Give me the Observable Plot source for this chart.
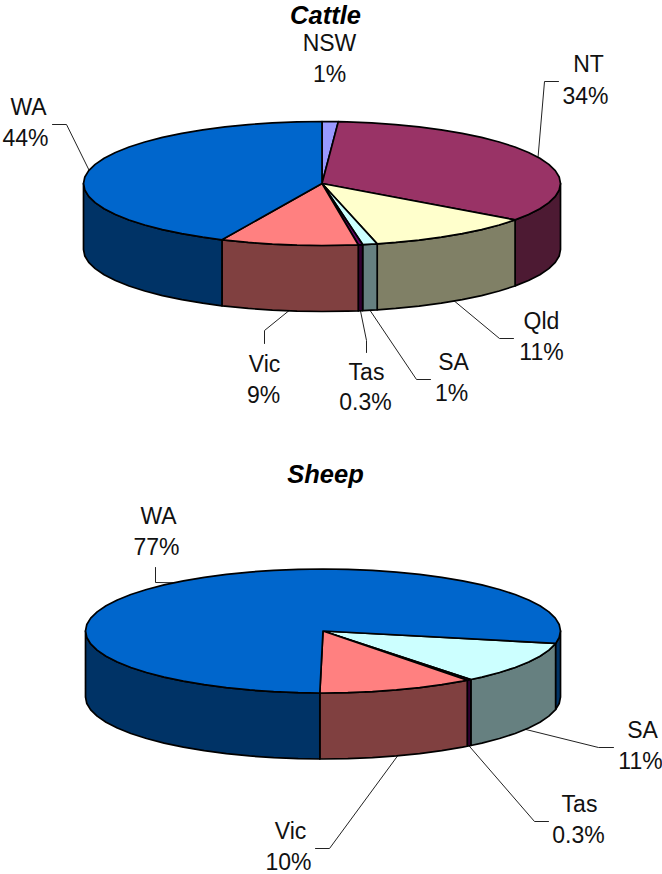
<!DOCTYPE html>
<html>
<head>
<meta charset="utf-8">
<style>
  html, body { margin: 0; padding: 0; background: #fff; }
  svg { display: block; }
</style>
<script src="https://cdn.jsdelivr.net/npm/d3@7"></script>
<script src="https://cdn.jsdelivr.net/npm/@observablehq/plot@0.6"></script>
</head>
<body>
<script>
// Share of each state, per cent, clockwise from each pie's starting angle.
const cattleRegions = ["NSW", "NT", "Qld", "SA", "Tas", "Vic", "WA"];
const cattleShares = [1.1, 34.2, 11.4, 1, 0.3, 9.4, 43.5];
const cattleLabels = ["1%", "34%", "11%", "1%", "0.3%", "9%", "44%"];

const sheepRegions = ["SA", "Tas", "Vic", "WA"];
const sheepShares = [10.9, 0.3, 10.4, 76.5];
const sheepLabels = ["11%", "0.3%", "10%", "77%"];

const topColors = {
  NSW: "#9999ff", NT: "#993366", Qld: "#ffffcc", SA: "#ccffff",
  Tas: "#660066", Vic: "#ff8080", WA: "#0066cc"
};
const sideColors = {
  NSW: "#4d4d80", NT: "#4d1a33", Qld: "#808066", SA: "#668080",
  Tas: "#330033", Vic: "#804040", WA: "#003366"
};

// Disc geometry and text placement for the two pies.
const cattleDisc = { cx: 321.5, cy: 183, rx: 238.5, ry: 62, depth: 66, start: 0 };
const sheepDisc = { cx: 322.5, cy: 630.5, rx: 237.5, ry: 62, depth: 66, start: 101.5 };

// name: [x, baseline], value: [x, baseline], elbow: the leader's fixed points from the text inward.
const cattleCallouts = {
  NSW: { name: [329, 50], value: [329, 81], elbow: [] },
  NT: { name: [588, 71], value: [585, 103], elbow: [[558, 81], [544, 81]] },
  Qld: { name: [541, 328], value: [541, 359], elbow: [[513, 338], [499, 338]] },
  SA: { name: [453, 369], value: [451, 400], elbow: [[430, 379], [416, 379]] },
  Tas: { name: [366, 379], value: [365, 409], elbow: [[366, 352], [366, 340]] },
  Vic: { name: [264, 371], value: [263, 402], elbow: [[264, 343], [264, 330]] },
  WA: { name: [28, 114], value: [25, 145], elbow: [[52, 124], [66, 124]] }
};
const sheepCallouts = {
  SA: { name: [642, 737], value: [640, 768], elbow: [[613, 747], [598, 747]] },
  Tas: { name: [579, 811], value: [578, 842], elbow: [[548, 821], [534, 821]] },
  Vic: { name: [290, 838], value: [288, 869], elbow: [[315, 848], [329, 848]] },
  WA: { name: [158, 523], value: [156, 554], elbow: [[155, 567], [155, 582]] }
};

const headings = [
  { text: "Cattle", x: 325, y: 23 },
  { text: "Sheep", x: 325, y: 482 }
];

// The rim is a coarse polygon, so it keeps a slightly faceted outline.
const FACET = 6;
const rad = Math.PI / 180;

function rimPoint(disc, deg, drop = 0) {
  return {
    x: disc.cx + disc.rx * Math.sin(deg * rad),
    y: disc.cy - disc.ry * Math.cos(deg * rad) + drop
  };
}

function arcDegrees(a, b) {
  const out = [a];
  for (let d = Math.ceil(a / FACET + 1e-6) * FACET; d < b - 1e-6; d += FACET) out.push(d);
  out.push(b);
  return out;
}

function buildPie(key, regions, shares, labels, disc, callouts) {
  const arcs = d3.pie().sort(null)
    .startAngle(disc.start * rad)
    .endAngle((disc.start + 360) * rad)(shares);
  const tops = [], sides = [], leaders = [], texts = [];

  arcs.forEach((arc, i) => {
    const region = regions[i];
    const a = arc.startAngle / rad, b = arc.endAngle / rad;

    // Top face: wedge from the centre out to the rim.
    const id = `${key}-${region}`;
    tops.push({ id, tone: topColors[region], x: disc.cx, y: disc.cy });
    for (const d of arcDegrees(a, b)) {
      tops.push({ id, tone: topColors[region], ...rimPoint(disc, d) });
    }

    // Outer wall: only the front half of the disc, 90 to 270 degrees and its next turn.
    [[90, 270], [450, 630]].forEach(([lo, hi], k) => {
      const s = Math.max(a, lo), e = Math.min(b, hi);
      if (e <= s) return;
      const wall = `${id}-wall${k}`;
      const degs = arcDegrees(s, e);
      for (const d of degs) sides.push({ id: wall, tone: sideColors[region], ...rimPoint(disc, d) });
      for (const d of degs.slice().reverse()) {
        sides.push({ id: wall, tone: sideColors[region], ...rimPoint(disc, d, disc.depth) });
      }
    });

    const c = callouts[region];
    texts.push({ text: region, x: c.name[0], y: c.name[1] });
    texts.push({ text: labels[i], x: c.value[0], y: c.value[1] });

    // Leaders end on the slice's mid angle: the rim itself at the back, the wall's base in front.
    if (c.elbow.length) {
      const mid = (a + b) / 2;
      const front = Math.cos(mid * rad) < 0;
      const tip = rimPoint(disc, mid, front ? disc.depth : 0);
      c.elbow.forEach(([x, y]) => leaders.push({ id, x, y }));
      leaders.push({ id, ...tip });
    }
  });
  return { tops, sides, leaders, texts };
}

const cattle = buildPie("cattle", cattleRegions, cattleShares, cattleLabels, cattleDisc, cattleCallouts);
const sheep = buildPie("sheep", sheepRegions, sheepShares, sheepLabels, sheepDisc, sheepCallouts);

const fontFamily = "'Liberation Sans', Arial, sans-serif";
const faceOptions = {
  x: "x", y: "y", z: "id", fill: "tone", stroke: "#000",
  strokeWidth: 1.7, strokeLinejoin: "round", curve: "linear-closed"
};

const chart = Plot.plot({
  width: 662,
  height: 874,
  margin: 0,
  x: { domain: [0, 662], range: [0, 662], axis: null },
  y: { domain: [0, 874], range: [0, 874], axis: null },
  color: { type: "identity" },
  style: { background: "#fff", fontFamily },
  marks: [
    Plot.line([...cattle.leaders, ...sheep.leaders], {
      x: "x", y: "y", z: "id", stroke: "#222", strokeWidth: 1
    }),
    Plot.line([...cattle.sides, ...sheep.sides], faceOptions),
    Plot.line([...cattle.tops, ...sheep.tops], faceOptions),
    Plot.text([...cattle.texts, ...sheep.texts], {
      x: "x", y: "y", text: "text", fontSize: 23, fill: "#111",
      textAnchor: "middle", lineAnchor: "bottom", fontFamily
    }),
    Plot.text(headings, {
      x: "x", y: "y", text: "text", fontSize: 25.5, fill: "#000",
      fontWeight: "bold", fontStyle: "italic",
      textAnchor: "middle", lineAnchor: "bottom", fontFamily
    })
  ]
});
document.body.appendChild(chart);
</script>
</body>
</html>
